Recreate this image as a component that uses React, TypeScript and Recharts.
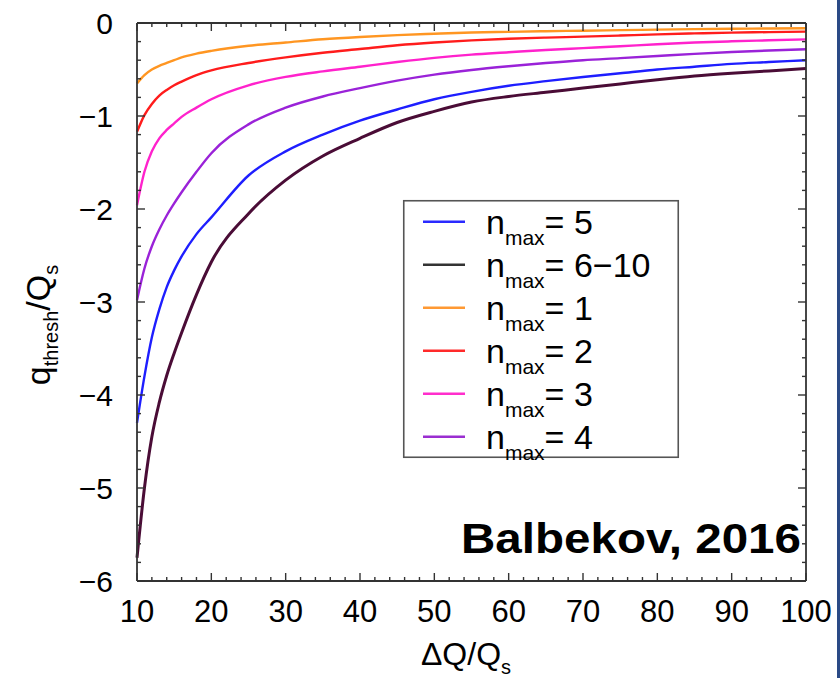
import React from 'react';
import { LineChart, Line, XAxis, YAxis, Legend } from 'recharts';

// ΔQ/Qs sample positions
const dq = [10, 11, 12, 13, 14, 15, 16, 18, 20, 25, 30, 35, 40, 45, 50, 55, 60, 65, 70, 75, 80, 85, 90, 95, 100];

// q_thresh/Qs for each n_max
const nmax5 = [-4.30, -3.80, -3.38, -3.08, -2.84, -2.66, -2.51, -2.27, -2.09, -1.64, -1.38, -1.20, -1.05, -0.93, -0.82, -0.74, -0.675, -0.625, -0.58, -0.54, -0.50, -0.47, -0.44, -0.42, -0.40];
const nmax6to10 = [-5.75, -5.0, -4.45, -4.08, -3.79, -3.55, -3.33, -2.92, -2.57, -2.05, -1.69, -1.43, -1.24, -1.07, -0.95, -0.85, -0.79, -0.745, -0.70, -0.655, -0.61, -0.57, -0.54, -0.515, -0.49];
const nmax1 = [-0.65, -0.56, -0.50, -0.46, -0.43, -0.40, -0.37, -0.33, -0.30, -0.245, -0.21, -0.175, -0.15, -0.13, -0.115, -0.102, -0.095, -0.088, -0.083, -0.077, -0.071, -0.066, -0.062, -0.059, -0.057];
const nmax2 = [-1.17, -0.99, -0.87, -0.78, -0.72, -0.67, -0.63, -0.56, -0.51, -0.43, -0.37, -0.32, -0.28, -0.24, -0.21, -0.187, -0.17, -0.157, -0.147, -0.135, -0.122, -0.112, -0.103, -0.098, -0.093];
const nmax3 = [-1.96, -1.60, -1.38, -1.24, -1.15, -1.08, -1.01, -0.91, -0.82, -0.67, -0.58, -0.52, -0.47, -0.42, -0.375, -0.34, -0.315, -0.29, -0.27, -0.25, -0.228, -0.21, -0.197, -0.186, -0.176];
const nmax4 = [-2.98, -2.64, -2.40, -2.22, -2.07, -1.94, -1.82, -1.60, -1.40, -1.09, -0.91, -0.79, -0.70, -0.62, -0.555, -0.505, -0.465, -0.43, -0.40, -0.378, -0.355, -0.332, -0.312, -0.296, -0.283];

// ticks
const xMajorTicks = [10, 20, 30, 40, 50, 60, 70, 80, 90, 100];
const yMajorTicks = [-6, -5, -4, -3, -2, -1, 0];
const xTicks = Array.from({ length: 46 }, (_, i) => 10 + 2 * i);
const yTicks = Array.from({ length: 31 }, (_, i) => Math.round((-6 + 0.2 * i) * 10) / 10);

const series = [
  { key: 'n5', label: '5', values: nmax5, color: '#1e1eff', legendColor: '#2a2aff' },
  { key: 'n6', label: '6\u221210', values: nmax6to10, color: '#4a0c36', legendColor: '#333333' },
  { key: 'n1', label: '1', values: nmax1, color: '#ff9622', legendColor: '#ff9933' },
  { key: 'n2', label: '2', values: nmax2, color: '#ff1c1c', legendColor: '#ff2a2a' },
  { key: 'n3', label: '3', values: nmax3, color: '#ff22cc', legendColor: '#ff2ecc' },
  { key: 'n4', label: '4', values: nmax4, color: '#9a22d8', legendColor: '#9a2ed0' },
];

const data = dq.map((x, i) => {
  const row: any = { dq: x };
  series.forEach((s) => { row[s.key] = s.values[i]; });
  return row;
});

const FONT = '"Liberation Sans", Arial, Helvetica, sans-serif';
const AXIS = '#333333';

const fmtY = (v: number) => (v < 0 ? '\u2212' + Math.abs(v) : String(v));

const BottomTick = ({ x, y, payload }: any) => {
  const v = payload.value;
  const major = xMajorTicks.includes(v);
  return (
    <g>
      <line x1={x} x2={x} y1={y} y2={y - (major ? 8 : 4)} stroke={AXIS} strokeWidth={1.4} />
      {major && (
        <text x={x} y={y + 41} textAnchor="middle" fontSize={31} fontFamily={FONT} fill="#000">{v}</text>
      )}
    </g>
  );
};

const TopTick = ({ x, y, payload }: any) => {
  const major = xMajorTicks.includes(payload.value);
  return <line x1={x} x2={x} y1={y} y2={y + (major ? 8 : 4)} stroke={AXIS} strokeWidth={1.4} />;
};

const LeftTick = ({ x, y, payload }: any) => {
  const v = payload.value;
  const major = yMajorTicks.includes(v);
  return (
    <g>
      <line x1={x} x2={x + (major ? 8 : 4)} y1={y} y2={y} stroke={AXIS} strokeWidth={1.4} />
      {major && (
        <text x={x - 24} y={y + 10.5} textAnchor="end" fontSize={30} fontFamily={FONT} fill="#000">{fmtY(v)}</text>
      )}
    </g>
  );
};

const RightTick = ({ x, y, payload }: any) => {
  const major = yMajorTicks.includes(payload.value);
  return <line x1={x} x2={x - (major ? 8 : 4)} y1={y} y2={y} stroke={AXIS} strokeWidth={1.4} />;
};

const LegendBox = () => (
  <svg width={276} height={258} style={{ display: 'block', overflow: 'visible' }}>
    <rect x={0.75} y={0.75} width={274.5} height={256.5} fill="#fff" stroke="#555" strokeWidth={1.6} />
    {series.map((s, i) => {
      const cy = 21.7 + i * 43;
      return (
        <g key={s.key}>
          <line x1={20} x2={62} y1={cy} y2={cy} stroke={s.legendColor} strokeWidth={2.5} />
          <text x={83} y={cy + 12.5} fontSize={34} fontFamily={FONT} fill="#000">
            n<tspan fontSize={21} dy={10.5}>max</tspan>
            <tspan fontSize={34} dy={-10.5}>= {s.label}</tspan>
          </text>
        </g>
      );
    })}
  </svg>
);

export default function App() {
  return (
    <div style={{ position: 'absolute', left: 0, top: 0, width: 840, height: 678, background: '#fff', overflow: 'hidden' }}>
      <LineChart
        width={840}
        height={678}
        data={data}
        margin={{ top: 22, right: 33, bottom: 37, left: 77 }}
      >
        <XAxis
          dataKey="dq"
          type="number"
          domain={[10, 100]}
          ticks={xTicks}
          interval={0}
          tickSize={0}
          tickMargin={0}
          tickLine={false}
          axisLine={{ stroke: AXIS, strokeWidth: 1.8 }}
          tick={(p: any) => <BottomTick {...p} />}
          height={60}
        />
        <XAxis
          xAxisId="top"
          dataKey="dq"
          orientation="top"
          type="number"
          domain={[10, 100]}
          ticks={xTicks}
          interval={0}
          tickSize={0}
          tickMargin={0}
          tickLine={false}
          axisLine={{ stroke: AXIS, strokeWidth: 1.8 }}
          tick={(p: any) => <TopTick {...p} />}
          height={1}
        />
        <YAxis
          type="number"
          domain={[-6, 0]}
          ticks={yTicks}
          interval={0}
          tickSize={0}
          tickMargin={0}
          tickLine={false}
          axisLine={{ stroke: AXIS, strokeWidth: 1.8 }}
          tick={(p: any) => <LeftTick {...p} />}
          width={60}
        />
        <YAxis
          yAxisId="right"
          orientation="right"
          type="number"
          domain={[-6, 0]}
          ticks={yTicks}
          interval={0}
          tickSize={0}
          tickMargin={0}
          tickLine={false}
          axisLine={{ stroke: AXIS, strokeWidth: 1.8 }}
          tick={(p: any) => <RightTick {...p} />}
          width={1}
        />
        <Legend
          layout="vertical"
          align="center"
          verticalAlign="middle"
          wrapperStyle={{ left: 403, top: 200, width: 276, height: 258 }}
          content={() => <LegendBox />}
        />
        {series.map((s) => (
          <Line
            key={s.key}
            dataKey={s.key}
            type="monotone"
            stroke={s.color}
            strokeWidth={s.key === 'n6' ? 3 : 2.4}
            dot={false}
            activeDot={false}
            isAnimationActive={false}
          />
        ))}
        {/* invisible series that binds the top and right frame axes */}
        <Line
          xAxisId="top"
          yAxisId="right"
          dataKey="n1"
          stroke="none"
          dot={false}
          activeDot={false}
          legendType="none"
          isAnimationActive={false}
        />
      </LineChart>
      <svg
        width={840}
        height={678}
        style={{ position: 'absolute', left: 0, top: 0, pointerEvents: 'none' }}
      >
        <text transform="translate(50,325) rotate(-90)" textAnchor="middle" fontSize={34} fontFamily={FONT} fill="#000">
          q<tspan fontSize={20} dy={8}>thresh</tspan>
          <tspan fontSize={34} dy={-8}>/Q</tspan>
          <tspan fontSize={20} dy={8}>s</tspan>
        </text>
        <text x={466} y={665} textAnchor="middle" fontSize={32} fontFamily={FONT} fill="#000">
          ΔQ/Q<tspan fontSize={20} dy={9}>s</tspan>
        </text>
        <text x={801} y={553} textAnchor="end" fontSize={43} fontWeight="bold" fontFamily={FONT} fill="#000" textLength={340} lengthAdjust="spacingAndGlyphs">
          Balbekov, 2016
        </text>
      </svg>
      <div style={{ position: 'absolute', left: 837, top: 0, width: 3, height: 678, background: '#2a4a86' }} />
    </div>
  );
}
